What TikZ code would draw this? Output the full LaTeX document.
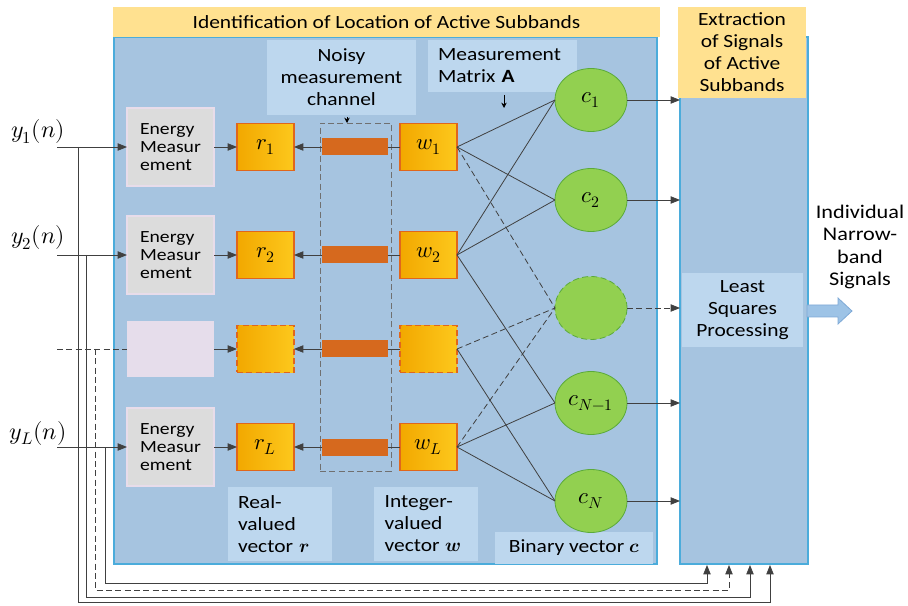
\documentclass[tikz,border=0pt]{standalone}
\usepackage{fontspec}
\usepackage{unicode-math}
\setmainfont{Carlito}[FakeStretch=1.15]
\setmathfont{Latin Modern Math}
\usetikzlibrary{shapes.geometric,arrows.meta}

\definecolor{panelblue}{HTML}{A6C4E0}
\definecolor{labelblue}{HTML}{BDD7EE}
\definecolor{bandgold}{HTML}{FFE190}
\definecolor{paneledge}{HTML}{4BACDB}
\definecolor{energygray}{HTML}{DCDCDC}
\definecolor{energyedge}{HTML}{E8DCEA}
\definecolor{blankfill}{HTML}{E6DDEB}
\definecolor{boxgold}{HTML}{F8BA0C}
\definecolor{boxgoldlo}{HTML}{F2A800}
\definecolor{boxgoldhi}{HTML}{FDC81C}
\definecolor{boxedge}{HTML}{E0661C}
\definecolor{barorange}{HTML}{D6691E}
\definecolor{circgreen}{HTML}{92D050}
\definecolor{circedge}{HTML}{5BAA3A}
\definecolor{linegray}{HTML}{404040}
\definecolor{dashgray}{HTML}{707070}
\definecolor{arrowblue}{HTML}{9DC3E6}
\definecolor{arrowedge}{HTML}{7EA9D6}

\def\pxu{0.75pt}
\tikzset{
  sz/.style 2 args={minimum width=#1*\pxu, minimum height=#2*\pxu},
  every node/.style={inner sep=0pt, outer sep=0pt},
  panel/.style={draw=paneledge, line width=0.9pt, fill=panelblue},
  band/.style={fill=bandgold, align=center, font=\fontsize{14}{16.5}\selectfont},
  tag/.style={fill=labelblue, font=\fontsize{14}{16.5}\selectfont},
  energybox/.style={fill=energygray, draw=energyedge, line width=1.5pt, sz={87}{78},
    align=left, font=\fontsize{12.8}{13.5}\selectfont},
  goldbox/.style={left color=boxgoldlo, right color=boxgoldhi, draw=boxedge, line width=0.9pt, sz={57}{47},
    font=\fontsize{17}{17}\selectfont},
  noisebar/.style={fill=barorange, sz={66}{17}},
  cnode/.style={ellipse, fill=circgreen, draw=circedge, line width=0.6pt, sz={72}{63},
    font=\fontsize{17}{17}\selectfont},
  wire/.style={draw=linegray, line width=0.6pt},
  arr/.style={wire, -{Triangle[length=7pt,width=5.5pt]}},
  tick/.style={draw=black, line width=0.6pt, -{Stealth[length=4pt,width=4pt]}},
  dashline/.style={dash pattern=on 4.5pt off 2.5pt},
  inlabel/.style={font=\fontsize{18}{18}\selectfont},
}

\begin{document}
\begin{tikzpicture}[x=0.75pt,y=-0.75pt]
\useasboundingbox (0,0) rectangle (908,606);

% panels and their headings
\node[panel, sz={543}{527}] (main) at (385.5,300.5) {};
\node[panel, sz={128}{527}] (side) at (744,300.5) {};
\node[band, sz={547}{30}] (ttl) at (386.5,22) {Identification of Location of Active Subbands};
\node[band, sz={128}{91}] (ttr) at (742,52.5) {Extraction\\of Signals\\of Active\\Subbands};

% caption boxes
\node[tag, sz={149}{75}, align=center] (noisy) at (341.5,77.5) {Noisy\\measurement\\channel};
\node[tag, sz={149}{52}, align=left, text width=96.75pt] (matrix) at (502.5,66) {Measurement\\Matrix \textbf{A}};
\node[tag, sz={104}{74}, align=left, text width=63pt] (realv) at (280,524) {Real-\\valued\\vector $\symbfit{r}$};
\node[tag, sz={104}{74}, align=left, text width=62pt] (intv) at (426,524) {Integer-\\valued\\vector $\symbfit{w}$};
\node[tag, sz={158}{32}] (binv) at (574,547.5) {Binary vector $\symbfit{c}$};
\node[tag, sz={121}{74}, align=center] (ls) at (742.5,310) {Least\\Squares\\Processing};

% noisy channel enclosure
\node[draw=dashgray, line width=0.6pt, dashline, sz={71}{348}] (chan) at (355.5,297) {};

% rows: energy measurement, r, channel bar, w
\node[energybox] (e1) at (170.5,147) {Energy\\Measur\\ement};
\node[energybox] (e2) at (170.5,255) {Energy\\Measur\\ement};
\node[energybox, fill=blankfill, draw=none, sz={87}{56}] (e3) at (170.5,349) {};
\node[energybox] (eL) at (170.5,447) {Energy\\Measur\\ement};

\node[goldbox] (r1) at (265.5,147) {$r_1$};
\node[goldbox] (r2) at (265.5,255) {$r_2$};
\node[goldbox, dashline] (r3) at (265.5,349) {};
\node[goldbox] (rL) at (265.5,447) {$r_L$};

\node[noisebar] (n1) at (355,147) {};
\node[noisebar] (n2) at (355,255) {};
\node[noisebar] (n3) at (355,349) {};
\node[noisebar] (nL) at (355,447) {};

\node[goldbox] (w1) at (428.5,147) {$w_1$};
\node[goldbox] (w2) at (428.5,255) {$w_2$};
\node[goldbox, dashline] (w3) at (428.5,349) {};
\node[goldbox] (wL) at (428.5,447) {$w_L$};

% binary vector entries
\node[cnode] (c1) at (591,100) {$c_1$};
\node[cnode] (c2) at (591,200) {$c_2$};
\node[cnode, dashline] (c3) at (591,308) {};
\node[cnode] (c4) at (591,403) {$c_{N-1}$};
\node[cnode] (c5) at (591,501) {$c_N$};

% input signals
\node[inlabel] (y1) at (38,132) {$y_1(n)$};
\node[inlabel] (y2) at (38,238) {$y_2(n)$};
\node[inlabel] (yL) at (38,433) {$y_L(n)$};

\coordinate (in1) at (57,147);
\coordinate (in2) at (57,255);
\coordinate (in3) at (57,349);
\coordinate (inL) at (57,447);

\draw[arr] (in1) -- (e1.west);
\draw[arr] (in2) -- (e2.west);
\draw[wire, dashline] (in3) -- (e3.west);
\draw[arr] (inL) -- (eL.west);

% per-row chain
\foreach \k in {1,2,3,L}{
  \draw[arr] (e\k.east) -- (r\k.west);
  \draw[arr] (n\k.west) -- (r\k.east);
  \draw[wire] (w\k.west) -- (n\k.east);
}

% measurement matrix connections
\draw[wire] (w1.east) -- (c1.west);
\draw[wire] (w1.east) -- (c2.west);
\draw[wire, dashline] (w1.east) -- (c3.west);
\draw[wire] (w2.east) -- (c1.west);
\draw[wire] (w2.east) -- (c2.west);
\draw[wire] (w2.east) -- (c4.west);
\draw[wire, dashline] (w3.east) -- (c3.west);
\draw[wire] (w3.east) -- (c5.west);
\draw[wire, dashline] (wL.east) -- (c3.west);
\draw[wire] (wL.east) -- (c4.west);
\draw[wire] (wL.east) -- (c5.west);

% binary vector into the extraction stage
\foreach \k in {1,2,4,5}{
  \draw[arr] (c\k.east) -- (c\k.east -| side.west);
}
\draw[arr, dashline] (c3.east) -- (c3.east -| side.west);

% caption pointers
\coordinate (na) at (347,117);
\draw[tick] (na) -- (na |- chan.north);
\coordinate (ma) at (504,95);
\draw[tick] (ma) -- ++(0,13);

% signals routed round to the extraction stage
\coordinate (j1) at (78,147);
\coordinate (j2) at (86,255);
\coordinate (j3) at (95,349);
\coordinate (jL) at (105,447);
\coordinate (t1) at (770,565);
\coordinate (t2) at (750,565);
\coordinate (t3) at (729,565);
\coordinate (tL) at (707,565);
\draw[arr] (j1) -- ++(0,455) -| (t1);
\draw[arr] (j2) -- ++(0,342) -| (t2);
\draw[arr, dashline] (j3) -- ++(0,241) -| (t3);
\draw[arr] (jL) -- ++(0,136) -| (tL);

% output
\coordinate (oa) at (807,311);
\filldraw[fill=arrowblue, draw=arrowedge, line width=0.6pt]
  (oa) -- ++(0,-6) -- ++(31,0) -- ++(0,-7) -- ++(14,13) -- ++(-14,13) -- ++(0,-7) -- ++(-31,0) -- cycle;
\node[align=center, font=\fontsize{14.5}{16.9}\selectfont] (out) at (860,247) {Individual\\Narrow-\\band\\Signals};
\end{tikzpicture}
\end{document}
